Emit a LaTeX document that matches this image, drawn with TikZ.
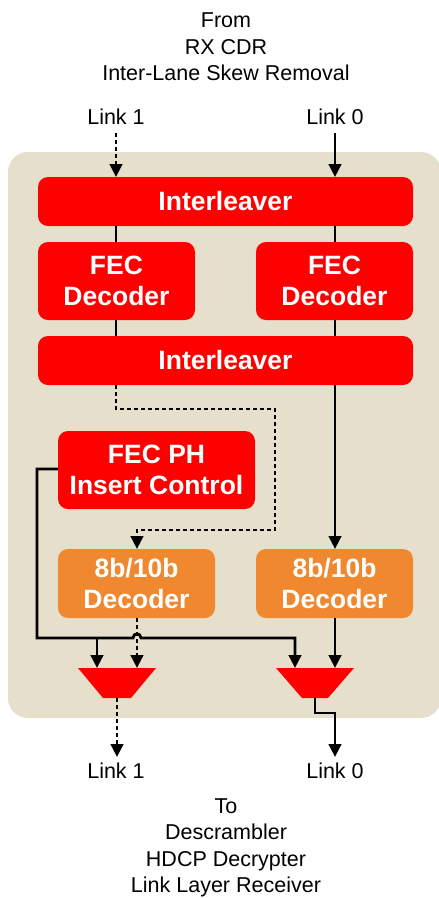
\documentclass[tikz,border=0pt]{standalone}
\usepackage{fontspec}
\setmainfont{Liberation Sans}
\usetikzlibrary{arrows.meta}
\definecolor{panel}{RGB}{230,223,203}
\definecolor{boxred}{RGB}{255,0,0}
\definecolor{boxorange}{RGB}{240,136,48}
\begin{document}
\begin{tikzpicture}[x=1pt,y=-1pt,
  blk/.style={rounded corners=10pt, draw=none, text=white, font=\bfseries\fontsize{26.5}{31.6}\selectfont, align=center, inner sep=0pt},
  redblk/.style={blk, fill=boxred},
  orblk/.style={blk, fill=boxorange},
  lbl/.style={font=\fontsize{21.5}{26.5}\selectfont, align=center, inner sep=0pt},
  wire/.style={line width=2.8pt, draw=black},
  arr/.style={wire, -{Triangle[length=13pt,width=12.5pt]}},
  dsh/.style={dash pattern=on 4pt off 3pt},
  mux/.style={fill=boxred, draw=none}]
\useasboundingbox (0,0) rectangle (439,898);
% panel
\fill[panel, rounded corners=20pt] (8,152) rectangle (441,718);
% labels
\node[lbl, anchor=north] (from) at (226,13) {From\\RX CDR\\Inter-Lane Skew Removal};
\node[lbl, anchor=base] (in1) at (116,124) {Link 1};
\node[lbl, anchor=base] (in0) at (335,124) {Link 0};
\node[lbl, anchor=base] (out1) at (116,778) {Link 1};
\node[lbl, anchor=base] (out0) at (335,778) {Link 0};
\node[lbl, anchor=north] (to) at (226,798) {To\\Descrambler\\HDCP Decrypter\\Link Layer Receiver};
% blocks
\node[redblk, minimum width=375pt, minimum height=49pt] (il1) at (225.5,201.5) {Interleaver};
\node[redblk, minimum width=157pt, minimum height=78pt] (fec1) at (116.5,281) {FEC\\Decoder};
\node[redblk, minimum width=157pt, minimum height=78pt] (fec0) at (334.5,281) {FEC\\Decoder};
\node[redblk, minimum width=375pt, minimum height=49pt] (il2) at (225.5,360.5) {Interleaver};
\node[redblk, minimum width=197pt, minimum height=78pt] (ph) at (156.5,470) {FEC PH\\Insert Control};
\node[orblk, minimum width=157pt, minimum height=69pt] (dec1) at (136.5,583.5) {8b/10b\\Decoder};
\node[orblk, minimum width=157pt, minimum height=69pt] (dec0) at (334.5,583.5) {8b/10b\\Decoder};
% muxes
\fill[mux] (78,668) -- (156,668) -- (131,698) -- (103,698) -- cycle;
\fill[mux] (276,668) -- (354,668) -- (328,698) -- (302,698) -- cycle;
\coordinate (m1a) at (97,668);
\coordinate (m1b) at (137,668);
\coordinate (m1o) at (117,698);
\coordinate (m0a) at (295,668);
\coordinate (m0b) at (335,668);
\coordinate (m0o) at (315,698);
% input links
\draw[arr, dsh] (116,133) -- (116,177);
\draw[arr] (335,133) -- (335,177);
% interleaver <-> fec
\draw[wire] (116,226) -- (116,242);
\draw[wire] (335,226) -- (335,242);
\draw[wire] (116,320) -- (116,336);
\draw[wire] (335,320) -- (335,336);
% link 1 dashed route
\draw[arr, dsh] (116,385) -- (116,409) -- (275,409) -- (275,530) -- (137,530) -- (137,549);
% link 0 route
\draw[arr] (335,385) -- (335,549);
% control line
\draw[arr] (ph.west |- 0,469) -- (37,469) -- (37,638) -- (133,638) .. controls (133,632.5) and (141,632.5) .. (141,638) -- (295,638) -- (m0a);
\draw[arr] (97,638) -- (m1a);
% decoders to muxes
\draw[arr, dsh] (137,618) -- (m1b);
\draw[arr] (335,618) -- (m0b);
% outputs
\draw[arr, dsh] (m1o) -- (117,757);
\draw[arr] (m0o) -- (315,713) -- (335,713) -- (335,757);
\end{tikzpicture}
\end{document}
